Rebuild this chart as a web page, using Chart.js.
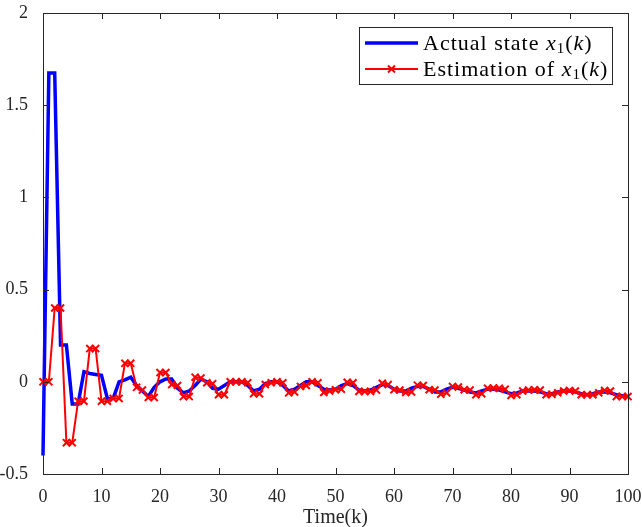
<!DOCTYPE html>
<html lang="en">
<head>
  <meta charset="UTF-8" />
  <title>Actual state vs estimation</title>
  <script src="https://cdn.jsdelivr.net/npm/chart.js@4.4.1/dist/chart.umd.min.js"></script>
  <style>
    html, body { margin: 0; padding: 0; background: #fff; }
    canvas { display: block; }
  </style>
</head>
<body>
  <canvas id="state-chart" width="642" height="527"></canvas>

  <script>
    // time steps k = 0..100
    const steps = [
      0, 1, 2, 3, 4, 5, 6, 7, 8, 9, 10, 11, 12, 13, 14, 15, 16, 17, 18, 19,
      20, 21, 22, 23, 24, 25, 26, 27, 28, 29, 30, 31, 32, 33, 34, 35, 36, 37, 38, 39,
      40, 41, 42, 43, 44, 45, 46, 47, 48, 49, 50, 51, 52, 53, 54, 55, 56, 57, 58, 59,
      60, 61, 62, 63, 64, 65, 66, 67, 68, 69, 70, 71, 72, 73, 74, 75, 76, 77, 78, 79,
      80, 81, 82, 83, 84, 85, 86, 87, 88, 89, 90, 91, 92, 93, 94, 95, 96, 97, 98, 99, 100
    ];

    // actual state x1(k)
    const actualState = [
      -0.40, 1.675, 1.675, 0.20, 0.20, -0.12, -0.12, 0.055, 0.045, 0.04,
      0.035, -0.09, -0.09, 0.0, 0.01, 0.025, -0.02, -0.05, -0.08, -0.03,
      0.0, 0.015, 0.015, -0.035, -0.06, -0.05, -0.02, 0.015, 0.0, -0.035,
      -0.04, -0.02, 0.0, 0.0, 0.0, -0.02, -0.05, -0.04, -0.01, 0.0,
      0.0, -0.02, -0.05, -0.04, -0.02, 0.0, 0.0, -0.02, -0.04, -0.045,
      -0.04, -0.02, -0.01, -0.02, -0.045, -0.05, -0.045, -0.03, -0.015, -0.02,
      -0.04, -0.05, -0.05, -0.035, -0.025, -0.025, -0.04, -0.055, -0.055, -0.04,
      -0.03, -0.035, -0.045, -0.055, -0.06, -0.05, -0.04, -0.04, -0.045, -0.055,
      -0.065, -0.06, -0.05, -0.05, -0.05, -0.055, -0.065, -0.065, -0.055, -0.05,
      -0.05, -0.055, -0.065, -0.07, -0.065, -0.055, -0.055, -0.06, -0.07, -0.075, -0.08
    ];

    // estimation of x1(k)
    const estimation = [
      0.0, 0.0, 0.40, 0.40, -0.33, -0.33, -0.105, -0.105, 0.18, 0.18,
      -0.105, -0.105, -0.09, -0.09, 0.10, 0.10, -0.03, -0.045, -0.085, -0.085,
      0.05, 0.05, -0.015, -0.02, -0.08, -0.08, 0.025, 0.02, -0.005, -0.01,
      -0.07, -0.07, 0.0, 0.0, 0.0, -0.005, -0.065, -0.065, -0.015, -0.005,
      0.0, -0.005, -0.06, -0.055, -0.025, -0.02, 0.0, -0.005, -0.058, -0.05,
      -0.043, -0.04, -0.003, -0.005, -0.052, -0.052, -0.052, -0.045, -0.008, -0.015,
      -0.043, -0.045, -0.058, -0.055, -0.018, -0.02, -0.043, -0.045, -0.067, -0.06,
      -0.025, -0.028, -0.043, -0.045, -0.07, -0.065, -0.035, -0.034, -0.035, -0.04,
      -0.074, -0.07, -0.05, -0.045, -0.043, -0.045, -0.07, -0.068, -0.06, -0.05,
      -0.047, -0.05, -0.07, -0.07, -0.07, -0.06, -0.047, -0.05, -0.08, -0.08, -0.08
    ];

    const xTicks = [0, 10, 20, 30, 40, 50, 60, 70, 80, 90, 100];
    const yTicks = [-0.5, 0, 0.5, 1, 1.5, 2];

    const axisColor = '#262626';
    const serif = "'Liberation Serif', 'Times New Roman', serif";

    // legend text pieces: normal text, italic math letters, subscript
    const legendParts = [
      [['Actual state ', 'n'], ['x', 'i'], ['1', 's'], ['(', 'n'], ['k', 'i'], [')', 'n']],
      [['Estimation of ', 'n'], ['x', 'i'], ['1', 's'], ['(', 'n'], ['k', 'i'], [')', 'n']]
    ];

    function drawRich(ctx, parts, x, y, size) {
      ctx.letterSpacing = '1px';
      parts.forEach(([t, s]) => {
        let fs = size, dy = 0, style = '';
        if (s === 'i') style = 'italic ';
        if (s === 's') { fs = Math.round(size * 0.7); dy = size * 0.22; }
        ctx.font = `${style}${fs}px ${serif}`;
        ctx.fillText(t, x, y + dy);
        x += ctx.measureText(t).width;
      });
      ctx.letterSpacing = '0px';
    }

    // matlab-like box, inward ticks on all four sides, and legend
    const matlabFrame = {
      id: 'matlabFrame',
      afterDatasetsDraw(chart) {
        const { ctx, chartArea: a, scales } = chart;
        ctx.save();
        ctx.strokeStyle = axisColor;
        ctx.lineWidth = 1;
        ctx.beginPath();
        const tl = 6;
        xTicks.forEach(v => {
          const px = Math.round(scales.x.getPixelForValue(v)) + 0.5;
          ctx.moveTo(px, a.bottom); ctx.lineTo(px, a.bottom - tl);
          ctx.moveTo(px, a.top); ctx.lineTo(px, a.top + tl);
        });
        yTicks.forEach(v => {
          const py = Math.round(scales.y.getPixelForValue(v)) + 0.5;
          ctx.moveTo(a.left, py); ctx.lineTo(a.left + tl, py);
          ctx.moveTo(a.right, py); ctx.lineTo(a.right - tl, py);
        });
        ctx.stroke();
        ctx.strokeRect(Math.round(a.left) + 0.5, Math.round(a.top) + 0.5,
          Math.round(a.right - a.left), Math.round(a.bottom - a.top));

        // legend
        const bx = Math.round(a.right) - 269, by = Math.round(a.top) + 14;
        const bw = 253, bh = 57;
        ctx.fillStyle = '#fff';
        ctx.fillRect(bx, by, bw, bh);
        ctx.strokeRect(bx + 0.5, by + 0.5, bw, bh);
        chart.data.datasets.forEach((ds, i) => {
          const ly = by + 16 + i * 26;
          ctx.strokeStyle = ds.borderColor;
          ctx.lineWidth = ds.borderWidth;
          ctx.beginPath();
          ctx.moveTo(bx + 6, ly); ctx.lineTo(bx + 59, ly);
          ctx.stroke();
          if (ds.pointRadius > 0) {
            const mx = bx + 32.5, r = 3.5;
            ctx.lineWidth = 2;
            ctx.beginPath();
            ctx.moveTo(mx - r, ly - r); ctx.lineTo(mx + r, ly + r);
            ctx.moveTo(mx - r, ly + r); ctx.lineTo(mx + r, ly - r);
            ctx.stroke();
          }
          ctx.fillStyle = '#000';
          ctx.textBaseline = 'middle';
          drawRich(ctx, legendParts[i], bx + 64, ly + 1, 22);
        });
        ctx.restore();
      }
    };

    const ctx = document.getElementById('state-chart').getContext('2d');
    new Chart(ctx, {
      type: 'line',
      data: {
        labels: steps,
        datasets: [
          {
            label: 'Actual state x1(k)',
            data: actualState,
            borderColor: '#0000ff',
            borderWidth: 3.5,
            pointRadius: 0,
            tension: 0,
            clip: false,
            order: 2
          },
          {
            label: 'Estimation of x1(k)',
            data: estimation,
            borderColor: '#ff0000',
            backgroundColor: '#ff0000',
            borderWidth: 2,
            pointStyle: 'crossRot',
            pointRadius: 5,
            pointBorderWidth: 2,
            pointBorderColor: '#ff0000',
            tension: 0,
            clip: false,
            order: 1
          }
        ]
      },
      options: {
        responsive: false,
        animation: false,
        events: [],
        layout: { padding: { top: 13, right: 14, left: 0, bottom: 0 } },
        plugins: {
          legend: { display: false },
          tooltip: { enabled: false }
        },
        scales: {
          x: {
            type: 'linear',
            min: 0,
            max: 100,
            afterBuildTicks: s => { s.ticks = xTicks.map(v => ({ value: v })); },
            afterFit: s => { s.height = 53; s.paddingLeft = 0; s.paddingRight = 0; },
            grid: { display: false },
            border: { display: false },
            ticks: {
              color: axisColor,
              font: { family: serif, size: 18 },
              padding: 4,
              maxRotation: 0
            },
            title: {
              display: true,
              text: 'Time(k)',
              color: axisColor,
              font: { family: serif, size: 20 },
              padding: { top: 0, bottom: -3 }
            }
          },
          y: {
            min: -0.5,
            max: 2,
            afterBuildTicks: s => { s.ticks = yTicks.map(v => ({ value: v })); },
            afterFit: s => { s.width = 43; s.paddingTop = 0; s.paddingBottom = 0; },
            grid: { display: false },
            border: { display: false },
            ticks: {
              color: axisColor,
              font: { family: serif, size: 18 },
              padding: 7,
              callback: v => String(v)
            }
          }
        }
      },
      plugins: [matlabFrame]
    });
  </script>
</body>
</html>
